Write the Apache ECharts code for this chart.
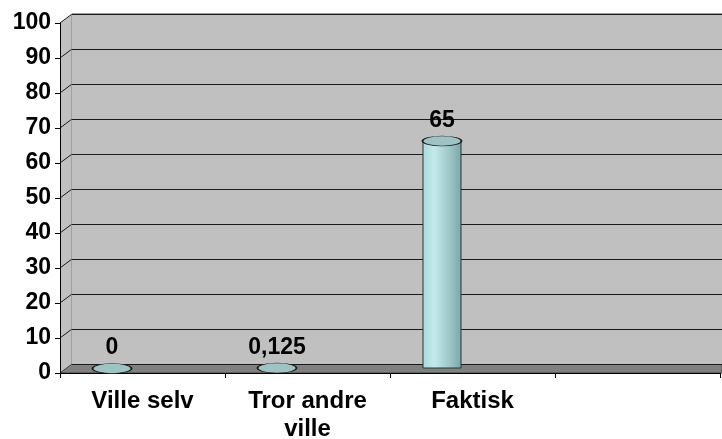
<!DOCTYPE html>
<html>
<head>
<meta charset="utf-8">
<script src="https://cdn.jsdelivr.net/npm/echarts@6/dist/echarts.min.js"></script>
<style>
    html, body { margin: 0; padding: 0; background: #fff; }
    #chart { width: 722px; height: 439px; }
</style>
</head>
<body>
<div id="chart"></div>
<script>
    // data
    var categories = ['Ville selv', 'Tror andre\nville', 'Faktisk', ''];
    var values = [0, 0.125, 65, null];
    var yMin = 0;
    var yMax = 100;
    var yStep = 10;

    var font = '"Liberation Sans", Arial, sans-serif';

    var chart = echarts.init(document.getElementById('chart'));

    var cylinderFill = new echarts.graphic.LinearGradient(0, 0, 1, 0, [
        {offset: 0, color: '#a9d9dc'},
        {offset: 0.3, color: '#c4e9eb'},
        {offset: 0.7, color: '#9cc6c8'},
        {offset: 1, color: '#7ea4a6'}
    ]);

    var option = {
        animation: false,
        grid: [
            // front axis
            {left: 60, right: 2, top: 23, bottom: 66, outerBoundsMode: 'none', containLabel: false},
            // back wall
            {left: 72, right: 0, top: 14, bottom: 75, show: true, backgroundColor: '#c0c0c0', borderWidth: 0, outerBoundsMode: 'none'},
            // bars (middle depth)
            {left: 29.5, right: 32.5, top: 18.5, bottom: 70.5, outerBoundsMode: 'none'}
        ],
        xAxis: [
            {
                gridIndex: 0, type: 'category', data: categories,
                axisLine: {lineStyle: {color: '#000', width: 1}},
                axisTick: {show: true, length: 5, lineStyle: {color: '#000'}},
                axisLabel: {
                    margin: 14, color: '#000', fontFamily: font, fontWeight: 'bold',
                    fontSize: 24, lineHeight: 28, interval: 0
                }
            },
            {gridIndex: 1, type: 'category', data: categories, show: false},
            {gridIndex: 2, type: 'category', data: categories, show: false}
        ],
        yAxis: [
            {
                gridIndex: 0, type: 'value', min: yMin, max: yMax, interval: yStep,
                axisLine: {show: true, lineStyle: {color: '#000'}},
                axisTick: {show: true, length: 5, lineStyle: {color: '#000'}},
                splitLine: {show: false},
                axisLabel: {margin: 9, color: '#000', fontFamily: font, fontWeight: 'bold', fontSize: 23}
            },
            {
                gridIndex: 1, type: 'value', min: yMin, max: yMax, interval: yStep,
                axisLine: {show: false}, axisTick: {show: false}, axisLabel: {show: false},
                splitLine: {show: true, lineStyle: {color: '#1a1a1a', width: 1}}
            },
            {gridIndex: 2, type: 'value', min: yMin, max: yMax, show: false}
        ],
        series: [
            {
                type: 'bar',
                xAxisIndex: 2, yAxisIndex: 2,
                data: values,
                barWidth: 39,
                itemStyle: {color: cylinderFill, borderColor: '#1f3a3a', borderWidth: 1},
                label: {
                    show: true, position: 'top', distance: 9,
                    color: '#000', fontFamily: font, fontWeight: 'bold', fontSize: 23,
                    formatter: function (p) {
                        return String(p.value).replace('.', ',');
                    }
                },
                z: 3
            },
            {
                // cylinder tops
                type: 'scatter',
                xAxisIndex: 2, yAxisIndex: 2,
                data: values,
                symbol: 'circle',
                symbolSize: [39, 10],
                itemStyle: {color: '#9fc3c3', borderColor: '#1a1a1a', borderWidth: 1, opacity: 1},
                z: 4
            }
        ]
    };

    chart.setOption(option);

    // side wall, slanted grid lines and floor of the 3D box
    var frontX = 60, backX = 72, rightX = 722;
    var g = [];
    var f0 = chart.convertToPixel({yAxisIndex: 0}, yMin);
    var b0 = chart.convertToPixel({yAxisIndex: 1}, yMin);
    var fTop = chart.convertToPixel({yAxisIndex: 0}, yMax);
    var bTop = chart.convertToPixel({yAxisIndex: 1}, yMax);
    g.push({
        type: 'polygon', z: -5,
        shape: {points: [[frontX, fTop], [backX, bTop], [backX, b0], [frontX, f0]]},
        style: {fill: '#c0c0c0', stroke: null}
    });
    for (var v = yMin + yStep; v <= yMax; v += yStep) {
        g.push({
            type: 'line', z: -4,
            shape: {
                x1: frontX, y1: chart.convertToPixel({yAxisIndex: 0}, v),
                x2: backX, y2: chart.convertToPixel({yAxisIndex: 1}, v)
            },
            style: {stroke: '#1a1a1a', lineWidth: 1}
        });
    }
    g.push({
        type: 'line', z: -4,
        shape: {x1: backX, y1: bTop, x2: backX, y2: b0},
        style: {stroke: '#808080', lineWidth: 1}
    });
    g.push({
        type: 'line', z: -4,
        shape: {x1: backX, y1: bTop, x2: rightX, y2: bTop},
        style: {stroke: '#808080', lineWidth: 1.5}
    });
    g.push({
        type: 'polygon', z: -3,
        shape: {points: [[frontX, f0], [backX, b0], [rightX, b0], [rightX, f0]]},
        style: {fill: '#808080', stroke: '#404040', lineWidth: 1}
    });
    chart.setOption({graphic: g});
</script>
</body>
</html>
